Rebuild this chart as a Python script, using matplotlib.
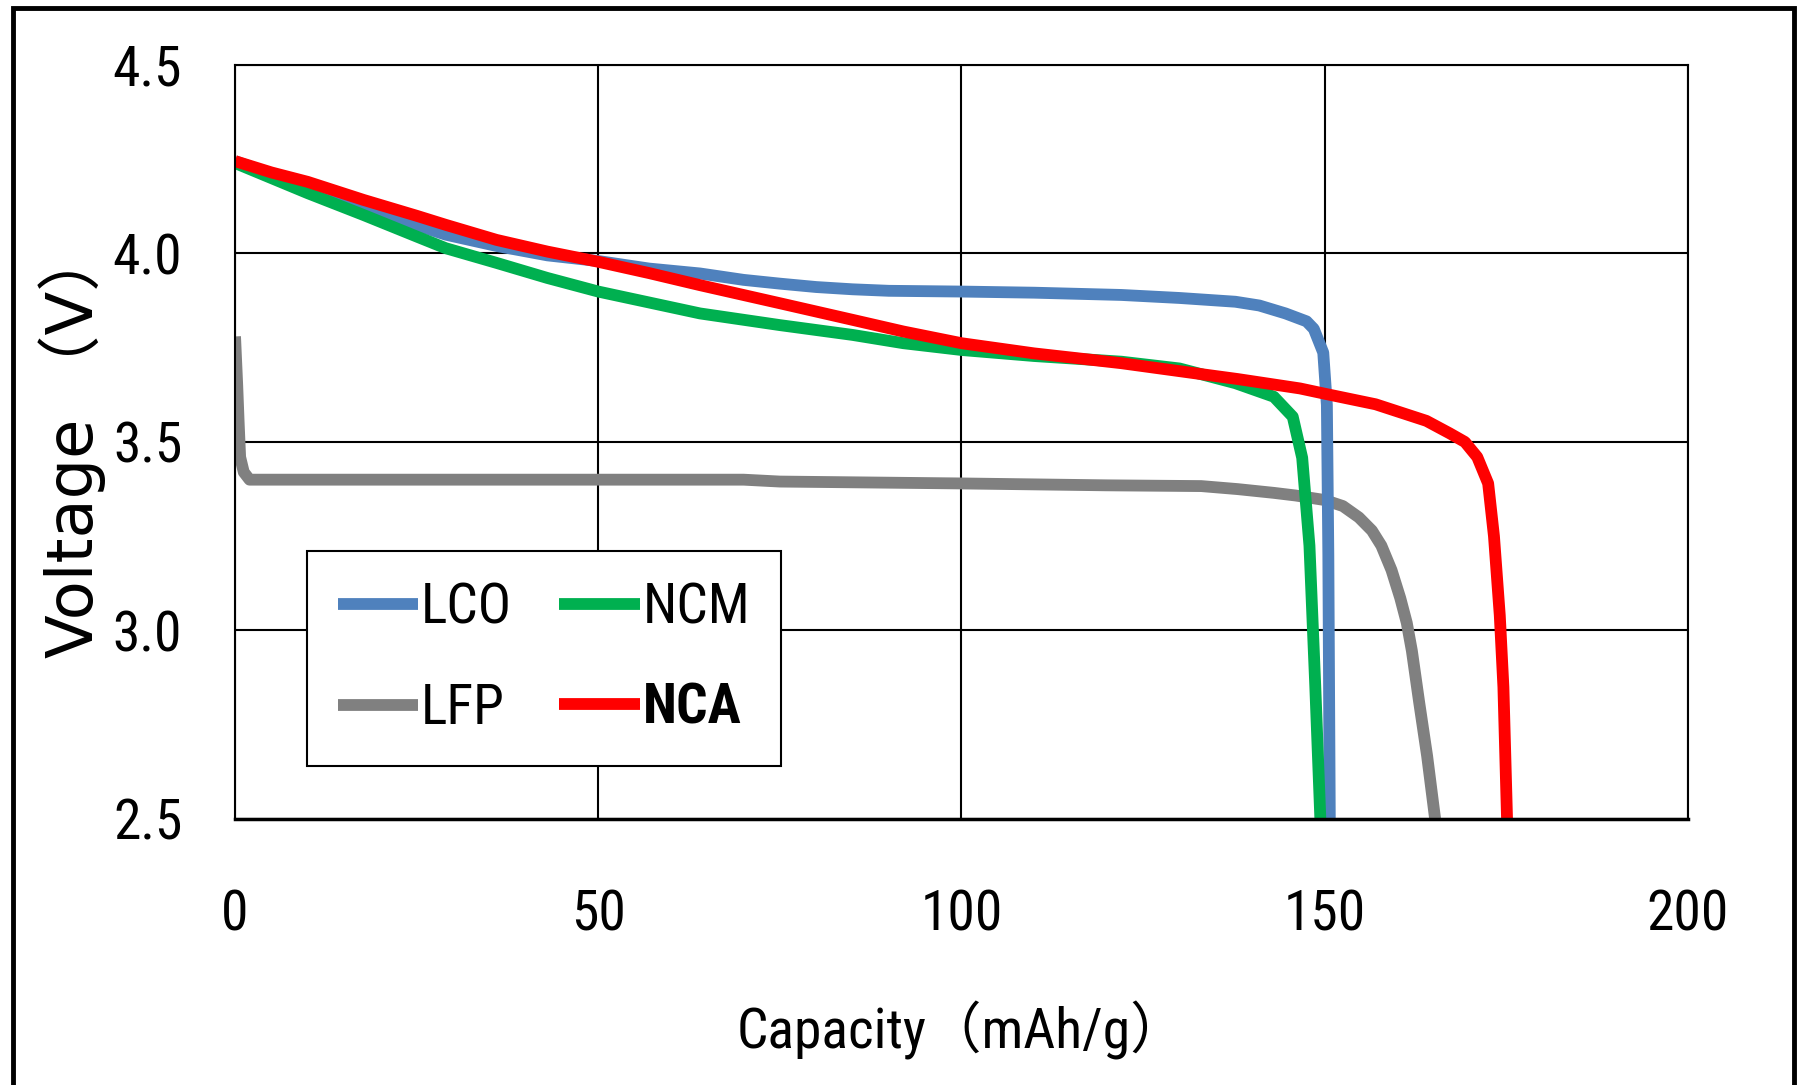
import matplotlib
matplotlib.use("Agg")
import matplotlib.pyplot as plt
from matplotlib import font_manager as fm
from matplotlib.patches import Rectangle

# %% Data (capacity mAh/g, voltage V)
lco_cap = [0, 5, 10, 17.7, 25, 29, 36, 43, 50, 57, 64, 70, 75, 80, 85, 90, 100, 110, 122,
           130, 137.7, 141, 144.6, 147.5, 148.5, 149.8, 150.3, 150.5, 150.7]
lco_v = [4.245, 4.21, 4.18, 4.125, 4.075, 4.05, 4.02, 3.995, 3.98, 3.96, 3.947, 3.93, 3.92,
         3.911, 3.905, 3.901, 3.899, 3.896, 3.89, 3.882, 3.872, 3.862, 3.841, 3.82, 3.80,
         3.737, 3.598, 3.2, 2.5]

ncm_cap = [0, 5, 10, 17.7, 25, 29, 36, 43, 50, 57, 64, 75, 85, 92, 100, 110, 122, 130,
           137.7, 143.0, 145.6, 146.9, 147.9, 148.7, 149.4]
ncm_v = [4.24, 4.20, 4.16, 4.102, 4.045, 4.014, 3.975, 3.935, 3.899, 3.87, 3.841, 3.81,
         3.784, 3.762, 3.744, 3.728, 3.713, 3.695, 3.656, 3.62, 3.567, 3.458, 3.225, 2.853, 2.5]

lfp_cap = [0, 0.3, 0.5, 0.7, 1.2, 2, 10, 50, 70, 75, 100, 120, 133, 138, 143, 146, 150,
           152.5, 154.7, 156.5, 157.8, 159.2, 160.4, 161.3, 162.0, 163.0, 164.1, 165.2]
lfp_v = [3.78, 3.65, 3.55, 3.46, 3.42, 3.40, 3.40, 3.40, 3.40, 3.395, 3.39, 3.385, 3.383,
         3.375, 3.365, 3.358, 3.346, 3.33, 3.30, 3.265, 3.225, 3.16, 3.086, 3.02, 2.946,
         2.81, 2.667, 2.5]

nca_cap = [0, 5, 10, 17.7, 25, 29, 36, 43, 50, 57, 64, 75, 85, 92, 100, 110, 122, 133,
           138, 146.6, 150, 157, 164, 167.2, 169.3, 171, 172.5, 173.3, 174.1, 174.6, 175.1]
nca_v = [4.245, 4.215, 4.19, 4.142, 4.10, 4.076, 4.036, 4.005, 3.978, 3.948, 3.916, 3.868,
         3.824, 3.793, 3.762, 3.735, 3.709, 3.68, 3.667, 3.642, 3.628, 3.60, 3.556, 3.523,
         3.50, 3.46, 3.39, 3.25, 3.04, 2.85, 2.5]

xticks = [0, 50, 100, 150, 200]
yticks = [2.5, 3.0, 3.5, 4.0, 4.5]

# %% Pick the narrowest sans face that is installed (reference text is condensed)
names = {f.name for f in fm.fontManager.ttflist}
narrow = None
for cand in ["Liberation Sans Narrow", "Roboto Condensed", "Open Sans Condensed",
             "Noto Sans Condensed", "DejaVu Sans Condensed"]:
    if cand in names:
        narrow = cand
        break
stretch = "normal"
if narrow is None:
    cond = [f for f in fm.fontManager.ttflist
            if f.name == "DejaVu Sans" and "Condensed" in f.fname and "Bold" not in f.fname]
    if cond:
        narrow, stretch = "DejaVu Sans", "condensed"
if narrow is None:
    narrow = "Liberation Sans"
    fs = 35
else:
    fs = 40
TXT = [narrow, "Noto Sans CJK JP", "DejaVu Sans"]

# %% Plot
fig = plt.figure(figsize=(17.97, 10.85), dpi=100)
ax = fig.add_axes([0.1308, 0.2452, 0.8085, 0.6949])

lw = 8.5
l_lfp, = ax.plot(lfp_cap, lfp_v, color="#808080", lw=lw, solid_capstyle="butt", label="LFP")
l_lco, = ax.plot(lco_cap, lco_v, color="#4F81BD", lw=lw, solid_capstyle="butt", label="LCO")
l_ncm, = ax.plot(ncm_cap, ncm_v, color="#00B050", lw=lw, solid_capstyle="butt", label="NCM")
l_nca, = ax.plot(nca_cap, nca_v, color="#FF0000", lw=lw, solid_capstyle="butt", label="NCA")

ax.set_xlim(0, 200)
ax.set_ylim(2.5, 4.5)
ax.set_xticks(xticks)
ax.set_yticks(yticks)
ax.set_xticklabels([str(t) for t in xticks], family=TXT, stretch=stretch, fontsize=fs)
ax.set_yticklabels([f"{t:.1f}" for t in yticks], family=TXT, stretch=stretch, fontsize=fs)
ax.tick_params(axis="both", length=0)
ax.tick_params(axis="x", pad=50)
ax.tick_params(axis="y", pad=38)
ax.grid(True, color="black", lw=1.5)
for s in ax.spines.values():
    s.set_linewidth(1.5)
ax.spines["bottom"].set_linewidth(2.5)

ax.set_xlabel("Capacity（mAh/g）", family=TXT, stretch=stretch, fontsize=fs, va="center")
ax.xaxis.set_label_coords(0.5, -0.28)
ax.set_ylabel("Voltage （V）", family=["DejaVu Sans", "Noto Sans CJK JP"],
              fontsize=46, va="center")
ax.yaxis.set_label_coords(-0.112, 0.5)

# legend: two rows (LCO NCM / LFP NCA)
leg = ax.legend(handles=[l_lco, l_lfp, l_ncm, l_nca], ncol=2, loc="lower left",
                bbox_to_anchor=(0.0496, 0.0703), borderaxespad=0, fancybox=False,
                framealpha=1, edgecolor="black",
                prop=fm.FontProperties(family=TXT, stretch=stretch, size=fs),
                handlelength=1.45, handletextpad=0.05, columnspacing=0.85,
                labelspacing=0.86, borderpad=0.55)
leg.get_frame().set_linewidth(1.5)
leg.get_texts()[3].set_fontweight("bold")

# outer frame of the picture
fig.patches.append(Rectangle((13 / 1797, -0.05), 1781 / 1797, 1.05 - 8 / 1085,
                             transform=fig.transFigure, fill=False, edgecolor="black",
                             lw=3.5, clip_on=False))

fig.savefig("out.png", dpi=100)
